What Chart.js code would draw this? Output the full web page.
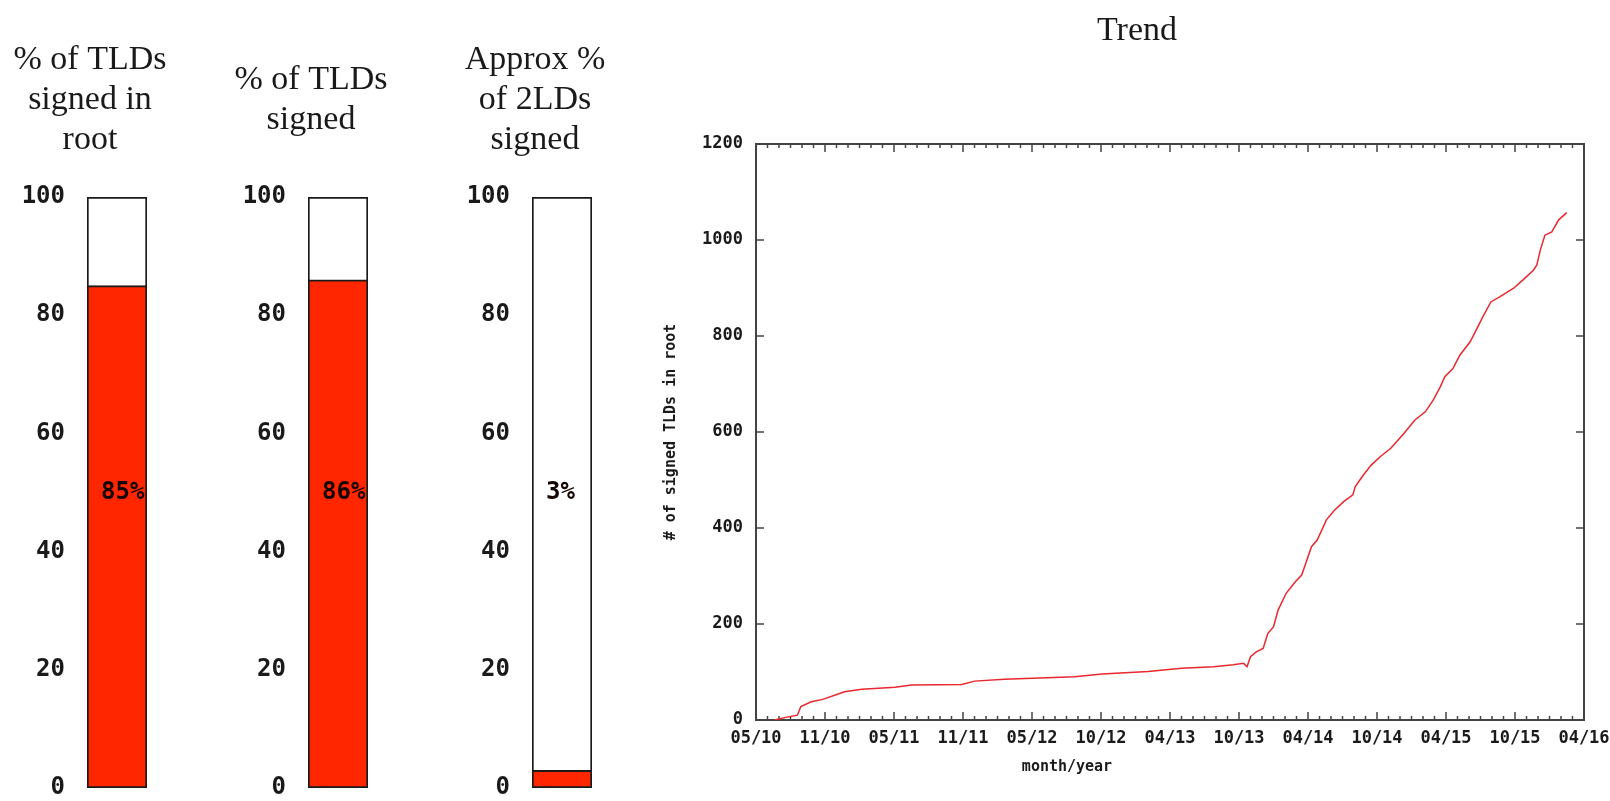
<!DOCTYPE html>
<html>
<head>
<meta charset="utf-8">
<title>DNSSEC deployment</title>
<script src="https://cdn.jsdelivr.net/npm/chart.js@4.4.1/dist/chart.umd.min.js"></script>
<style>
  html, body { margin: 0; padding: 0; background: #fff; overflow: hidden; }
  body { width: 1610px; height: 801px; position: relative; }
  canvas { position: absolute; top: 0; }
</style>
</head>
<body>
<canvas id="barRoot" width="200" height="801" style="left:0px"></canvas>
<canvas id="barTlds" width="200" height="801" style="left:221px"></canvas>
<canvas id="bar2lds" width="200" height="801" style="left:445px"></canvas>
<canvas id="trend" width="970" height="801" style="left:640px"></canvas>
<script>
// left: three percentage gauges
const barIds = ['barRoot', 'barTlds', 'bar2lds'];
const barTitles = [
  ['% of TLDs', 'signed in', 'root'],
  ['% of TLDs', 'signed'],
  ['Approx %', 'of 2LDs', 'signed'],
];
const barValues = [85, 86, 3];
const percentMax = 100;
const percentStep = 20;
const labelAt = 50;

// right: trend, x in months along the time axis starting at 05/10
const trendTicks = ['05/10', '11/10', '05/11', '11/11', '05/12', '10/12', '04/13',
  '10/13', '04/14', '10/14', '04/15', '10/15', '04/16'];
const monthsPerTick = 6;
const trendMonths = [1.6, 2.7, 3.6, 3.9, 4.8, 5.8, 6.9, 7.7, 9.2, 12.1, 13.5, 17.9, 19.0,
  21.6, 27.7, 30.1, 34.1, 37.0, 39.8, 41.5, 42.4, 42.7, 43.0, 43.5, 44.1, 44.5, 45.0,
  45.4, 46.1, 46.9, 47.45, 47.9, 48.3, 48.8, 49.6, 50.3, 51.1, 51.9, 52.1, 52.8, 53.5,
  54.3, 55.2, 56.3, 57.3, 58.2, 58.9, 59.5, 59.9, 60.6, 61.2, 62.1, 62.7, 63.2, 63.9,
  64.7, 65.85, 66.7, 67.6, 67.9, 68.2, 68.6, 69.2, 69.8, 70.5];
const trendCounts = [0, 6, 10, 28, 38, 43, 52, 59, 64, 68, 73, 74, 81,
  85, 90, 96, 101, 108, 111, 115, 118, 111, 132, 142, 149, 180, 194,
  229, 264, 288, 302, 333, 361, 375, 417, 437, 455, 469, 486, 510, 531,
  549, 566, 596, 625, 642, 667, 694, 715, 732, 760, 788, 816, 840, 871,
  882, 899, 917, 937, 948, 979, 1010, 1017, 1042, 1057];
const countMax = 1200;
const countStep = 200;

const RED = '#ff2600';
const LINE_RED = '#e8282e';
const INK = '#1a1a1a';
const FRAME = '#444';
const MONO = '"DejaVu Sans Mono", monospace';
const SERIF = '"Liberation Serif", "Times New Roman", serif';

// free text drawn on the canvas (titles, axis caption)
const captions = {
  id: 'captions',
  afterDraw(chart, args, opts) {
    const ctx = chart.ctx;
    (opts.items || []).forEach((it) => {
      ctx.save();
      ctx.font = it.font;
      ctx.fillStyle = it.color || INK;
      ctx.textAlign = 'center';
      ctx.textBaseline = 'middle';
      ctx.fillText(it.text, it.x, it.y);
      ctx.restore();
    });
  },
};

const barValue = {
  id: 'barValue',
  afterDatasetsDraw(chart, args, opts) {
    const bar = chart.getDatasetMeta(0).data[0];
    if (!bar) return;
    const ctx = chart.ctx;
    ctx.save();
    ctx.font = `bold 24px ${MONO}`;
    ctx.fillStyle = '#150500';
    ctx.textAlign = 'left';
    ctx.textBaseline = 'middle';
    ctx.fillText(opts.text, bar.x - 16, chart.scales.y.getPixelForValue(labelAt));
    ctx.restore();
  },
};

// gnuplot style border with inward ticks
const gnuplotFrame = {
  id: 'gnuplotFrame',
  beforeDatasetsDraw(chart) {
    const { ctx, chartArea: a, scales: { x, y } } = chart;
    ctx.save();
    ctx.strokeStyle = FRAME;
    ctx.lineWidth = 1.5;
    ctx.beginPath();
    x.ticks.forEach((t) => {
      const px = x.getPixelForValue(t.value);
      const len = Math.round(t.value) % monthsPerTick === 0 ? 8 : 4;
      ctx.moveTo(px, a.bottom); ctx.lineTo(px, a.bottom - len);
      ctx.moveTo(px, a.top); ctx.lineTo(px, a.top + len);
    });
    y.ticks.forEach((t) => {
      const py = y.getPixelForValue(t.value);
      ctx.moveTo(a.left, py); ctx.lineTo(a.left + 8, py);
      ctx.moveTo(a.right, py); ctx.lineTo(a.right - 8, py);
    });
    ctx.stroke();
    ctx.lineWidth = 2;
    ctx.strokeRect(a.left, a.top, a.right - a.left, a.bottom - a.top);
    ctx.restore();
  },
};

// label overflow is handled by the fixed layout padding
function noEdgePadding(s) {
  s.paddingTop = 0;
  s.paddingBottom = 0;
  s.paddingLeft = 0;
  s.paddingRight = 0;
}

function titleItems(lines) {
  return lines.map((text, i) => ({
    text,
    x: 90,
    y: 100 + (i - (lines.length - 1) / 2) * 40,
    font: `34px ${SERIF}`,
  }));
}

function percentBar(id, title, value) {
  const el = document.getElementById(id);
  return new Chart(el, {
    type: 'bar',
    data: {
      labels: [''],
      datasets: [
        { data: [value], backgroundColor: RED, borderColor: INK, borderWidth: 2, borderSkipped: false, grouped: false, order: 0 },
        { data: [percentMax], backgroundColor: '#fff', borderColor: INK, borderWidth: 2, borderSkipped: false, grouped: false, order: 1 },
      ],
    },
    options: {
      responsive: false,
      animation: false,
      layout: { padding: { top: 197, bottom: 13, left: 0, right: 53 } },
      datasets: { bar: { categoryPercentage: 1, barPercentage: 1 } },
      plugins: {
        legend: { display: false },
        tooltip: { enabled: false },
        captions: { items: titleItems(title) },
        barValue: { text: value + '%' },
      },
      scales: {
        x: { display: false },
        y: {
          min: 0,
          max: percentMax,
          ticks: { stepSize: percentStep, padding: 14, color: INK, font: { family: MONO, size: 24, weight: 'bold', lineHeight: 1 } },
          grid: { display: false },
          border: { display: false },
          afterFit(s) { s.width = 87; noEdgePadding(s); },
        },
      },
    },
    plugins: [captions, barValue],
  });
}

barIds.forEach((id, i) => percentBar(id, barTitles[i], barValues[i]));

const tickFont = { family: MONO, size: 17, weight: 'bold', lineHeight: 1 };

new Chart(document.getElementById('trend'), {
  type: 'line',
  data: {
    datasets: [{
      data: trendMonths.map((m, i) => ({ x: m, y: trendCounts[i] })),
      borderColor: LINE_RED,
      borderWidth: 1.5,
      pointRadius: 0,
      tension: 0,
      fill: false,
    }],
  },
  options: {
    responsive: false,
    animation: false,
    layout: { padding: { top: 144, right: 26, bottom: 0, left: 0 } },
    plugins: {
      legend: { display: false },
      tooltip: { enabled: false },
      captions: {
        items: [
          { text: 'Trend', x: 497, y: 31, font: `34px ${SERIF}` },
          { text: 'month/year', x: 427, y: 767, font: `bold 15px ${MONO}` },
        ],
      },
    },
    scales: {
      x: {
        type: 'linear',
        min: 0,
        max: (trendTicks.length - 1) * monthsPerTick,
        ticks: {
          stepSize: 1,
          autoSkip: false,
          maxTicksLimit: 200,
          maxRotation: 0,
          minRotation: 0,
          padding: 10,
          color: INK,
          font: tickFont,
          callback: (v) => {
            const m = Math.round(v);
            return m % monthsPerTick === 0 ? trendTicks[m / monthsPerTick] : '';
          },
        },
        grid: { display: false, drawTicks: false },
        border: { display: false },
        afterFit(s) { s.height = 81; noEdgePadding(s); },
      },
      y: {
        min: 0,
        max: countMax,
        ticks: { stepSize: countStep, padding: 13, color: INK, font: tickFont, callback: (v) => String(v) },
        grid: { display: false, drawTicks: false },
        border: { display: false },
        title: {
          display: true,
          text: '# of signed TLDs in root',
          color: INK,
          font: { family: MONO, size: 15, weight: 'bold', lineHeight: 1 },
          padding: { top: 24, bottom: 0 },
        },
        afterFit(s) { s.width = 116; noEdgePadding(s); },
      },
    },
  },
  plugins: [captions, gnuplotFrame],
});
</script>
</body>
</html>
